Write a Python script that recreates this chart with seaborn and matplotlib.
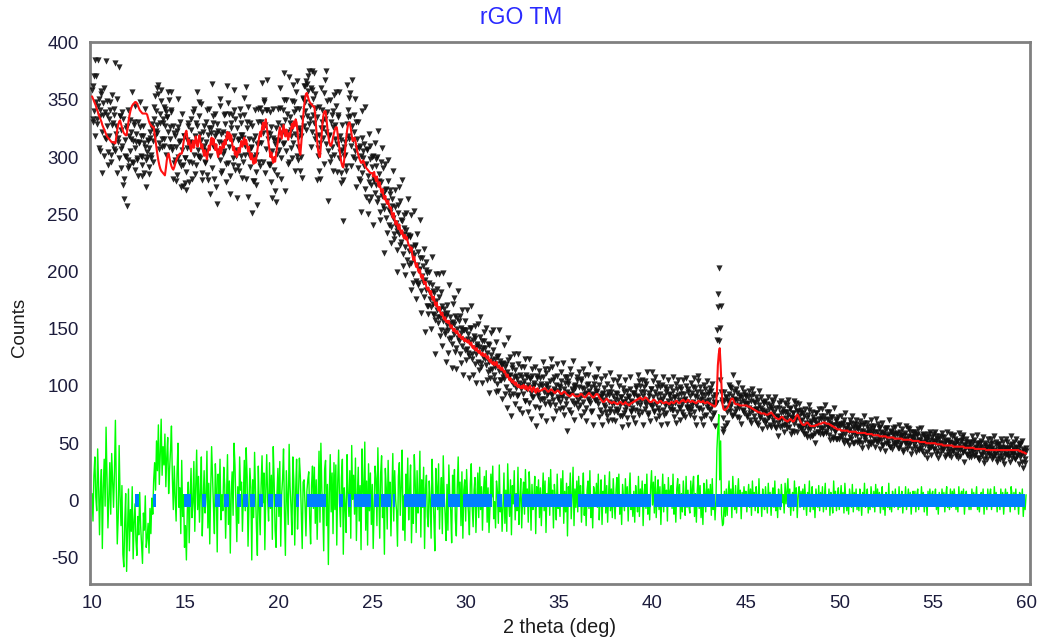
import numpy as np
import pandas as pd
import matplotlib
matplotlib.use("Agg")
import matplotlib.pyplot as plt
from matplotlib.ticker import MultipleLocator
import seaborn as sns

# ---------------- data ----------------
two_theta_start = 10.0
two_theta_step = 0.05

# calculated profile (red), one row per degree, 0.05 deg step
calc = [
    353, 351, 349, 347, 345, 342, 340, 337, 335, 333, 331, 328, 326, 324, 322, 320, 318, 317, 316, 315,
    314, 313, 313, 313, 312, 312, 318, 324, 328, 331, 332, 329, 326, 323, 321, 320, 319, 319, 325, 331,
    336, 340, 343, 345, 346, 347, 348, 348, 347, 345, 343, 341, 340, 339, 338, 338, 338, 338, 338, 337,
    334, 331, 329, 328, 327, 326, 326, 320, 314, 308, 302, 297, 293, 290, 288, 287, 286, 285, 284, 290,
    297, 302, 303, 299, 295, 292, 290, 289, 291, 294, 297, 299, 301, 302, 303, 303, 303, 307, 313, 318,
    321, 323, 317, 311, 315, 309, 305, 310, 314, 308, 312, 318, 313, 309, 315, 319, 313, 308, 311, 305,
    301, 306, 302, 298, 304, 310, 306, 313, 317, 311, 316, 310, 306, 311, 304, 300, 306, 309, 303, 307,
    312, 308, 315, 311, 318, 322, 316, 321, 314, 319, 312, 306, 309, 302, 305, 300, 303, 308, 304, 310,
    314, 309, 313, 317, 311, 315, 310, 305, 309, 302, 298, 303, 297, 294, 299, 295, 300, 306, 312, 318,
    322, 318, 326, 330, 324, 329, 333, 327, 320, 312, 306, 300, 304, 298, 295, 300, 296, 302, 308, 314,
    320, 326, 321, 316, 322, 328, 323, 318, 324, 320, 315, 321, 318, 324, 329, 325, 331, 327, 333, 330,
    322, 313, 305, 302, 312, 324, 335, 344, 351, 355, 356, 353, 350, 348, 347, 346, 345, 344, 344, 336,
    325, 314, 306, 301, 300, 310, 322, 332, 338, 340, 340, 333, 325, 318, 313, 310, 310, 313, 317, 321,
    324, 326, 326, 320, 313, 306, 300, 295, 292, 291, 298, 307, 316, 323, 328, 330, 330, 325, 319, 314,
    315, 317, 314, 309, 305, 302, 299, 297, 295, 295, 297, 296, 293, 291, 290, 289, 288, 287, 286, 286,
    286, 283, 287, 282, 279, 283, 277, 274, 278, 272, 269, 272, 266, 263, 266, 261, 259, 262, 257, 255,
    256, 250, 247, 251, 245, 241, 244, 240, 237, 241, 236, 233, 236, 231, 229, 232, 228, 230, 226, 223,
    222, 218, 221, 214, 210, 213, 207, 204, 207, 201, 199, 202, 196, 194, 197, 191, 189, 191, 186, 184,
    186, 183, 180, 183, 177, 175, 178, 172, 170, 173, 168, 166, 169, 164, 162, 164, 160, 158, 160, 156,
    157, 155, 157, 153, 151, 153, 150, 148, 150, 147, 146, 148, 145, 143, 145, 142, 141, 143, 140, 139,
    141, 139, 138, 140, 137, 136, 138, 134, 133, 135, 132, 131, 133, 130, 129, 131, 128, 127, 129, 126,
    126, 128, 125, 124, 126, 122, 121, 123, 120, 119, 121, 118, 119, 121, 117, 116, 118, 115, 114, 116,
    114, 112, 113, 110, 108, 110, 107, 105, 107, 104, 103, 105, 102, 101, 103, 100, 99, 101, 99, 98,
    100, 98, 101, 99, 97, 100, 98, 96, 99, 100, 97, 95, 98, 99, 96, 94, 97, 98, 95, 96,
    96, 96, 97, 97, 98, 98, 97, 96, 95, 95, 96, 97, 97, 96, 95, 94, 94, 95, 96, 96,
    95, 94, 93, 93, 94, 95, 95, 94, 93, 92, 92, 91, 91, 92, 93, 93, 92, 91, 91, 91,
    91, 91, 92, 93, 93, 92, 91, 90, 90, 91, 92, 93, 94, 93, 92, 91, 90, 90, 91, 92,
    93, 93, 92, 90, 89, 88, 87, 86, 86, 87, 88, 89, 88, 87, 86, 86, 85, 85, 86, 86,
    85, 85, 84, 84, 85, 86, 86, 85, 84, 84, 85, 86, 85, 84, 84, 83, 84, 85, 85, 86,
    86, 87, 87, 88, 88, 89, 89, 90, 89, 88, 88, 89, 90, 90, 89, 88, 87, 86, 86, 86,
    87, 88, 88, 87, 86, 85, 85, 86, 87, 87, 86, 85, 85, 85, 86, 86, 85, 85, 84, 85,
    86, 86, 85, 85, 86, 87, 87, 86, 85, 85, 86, 87, 87, 88, 87, 86, 86, 87, 88, 87,
    86, 86, 87, 87, 86, 86, 85, 85, 86, 87, 87, 86, 86, 86, 87, 86, 85, 85, 86, 86,
    85, 85, 84, 84, 83, 83, 82, 82, 84, 95, 118, 128, 133, 118, 98, 84, 80, 79, 79, 80,
    81, 82, 84, 86, 88, 89, 89, 87, 85, 84, 84, 84, 84, 83, 83, 83, 83, 83, 83, 83,
    83, 83, 82, 82, 82, 81, 81, 80, 80, 79, 79, 78, 78, 77, 77, 77, 76, 76, 76, 76,
    76, 75, 75, 75, 75, 76, 76, 77, 76, 75, 74, 73, 72, 72, 71, 71, 71, 72, 73, 73,
    72, 71, 70, 70, 69, 69, 70, 71, 71, 70, 69, 69, 70, 72, 74, 75, 74, 72, 70, 68,
    67, 66, 66, 66, 67, 68, 68, 67, 66, 65, 65, 65, 65, 65, 65, 66, 66, 66, 67, 67,
    67, 67, 68, 68, 68, 68, 67, 67, 67, 67, 66, 66, 65, 65, 64, 64, 63, 63, 62, 62,
    62, 62, 61, 61, 61, 61, 61, 61, 61, 61, 60, 60, 60, 60, 60, 60, 60, 60, 60, 59,
    59, 59, 59, 59, 59, 59, 59, 59, 59, 58, 58, 58, 58, 58, 58, 58, 57, 57, 57, 57,
    57, 57, 57, 56, 56, 56, 56, 56, 56, 56, 56, 55, 55, 55, 55, 55, 55, 55, 55, 54,
    54, 54, 54, 54, 54, 54, 54, 54, 53, 53, 53, 53, 53, 53, 53, 53, 53, 53, 52, 52,
    52, 52, 52, 52, 52, 52, 51, 51, 51, 51, 51, 51, 51, 50, 50, 50, 50, 50, 50, 50,
    50, 50, 50, 50, 49, 49, 49, 49, 49, 49, 49, 48, 48, 48, 48, 48, 48, 48, 48, 48,
    48, 48, 47, 47, 47, 47, 47, 47, 47, 47, 47, 47, 47, 47, 46, 46, 46, 46, 46, 46,
    46, 46, 46, 46, 46, 45, 45, 45, 45, 45, 45, 45, 45, 45, 45, 45, 45, 44, 44, 44,
    44, 44, 44, 44, 44, 44, 44, 44, 44, 44, 44, 44, 44, 44, 44, 44, 44, 44, 44, 44,
    44, 44, 44, 44, 44, 44, 44, 44, 44, 44, 44, 44, 44, 43, 43, 43, 42, 42, 42, 41,
    41,
]

# observed minus calculated (green), same grid
resid = [
    6, -18, 22, 38, 3, -9, 45, 14, -30, 8, 27, -42, 11, 36, -5, 64, 19, -24, 2, 33,
    -12, 41, 17, -6, 25, 70, 9, -38, -15, 48, 4, -22, 13, -47, -58, -19, 6, -62, -28, 10,
    -44, -8, -27, 12, -51, -19, -3, -35, -48, -14, -30, 7, -22, -39, -55, -11, -26, 4, -41, -33,
    -20, -46, -7, -29, 2, -12, 18, 33, 9, 52, 26, 66, 14, 40, 71, 22, 47, 31, 58, 12,
    38, 55, 6, 27, 44, 65, 19, -8, 30, 3, -18, 24, 50, -6, 11, -29, 35, -14, 5, -41,
    -22, -52, -9, 16, -37, 4, 28, -15, -2, 34, -27, 12, 44, -8, 21, -19, 7, 38, -31, 1,
    26, -11, 3, 43, -24, 15, -38, 8, 47, 19, -6, -29, 32, 10, -45, 23, -2, 36, -17, 5,
    -9, 29, 14, -33, 2, 40, -21, 17, -46, 6, 25, -13, 50, 31, -4, -36, 12, -20, 38, 9,
    16, -27, 4, 35, -9, 46, 21, -40, -3, 28, 11, -52, 18, -15, 42, 7, -24, -48, 30, -6,
    -30, 13, 39, -2, 24, -43, 8, 40, 1, -18, 33, -7, 22, -34, 47, 15, -26, -41, 6, 28,
    -14, 34, -40, 5, 19, 45, -11, -48, 26, 2, -21, 49, 12, -6, -30, 38, 17, -39, 9, 36,
    -25, 4, 37, 21, -12, -42, 16, 18, -3, -31, 8, 18, 25, -15, -38, 13, 30, -7, 29, -20,
    18, -34, 2, 43, -19, 50, 9, -7, -44, 27, 35, -22, 14, -56, 6, 40, -10, 24, -29, 33,
    -8, 31, -39, 15, 44, -2, -23, 20, 36, -47, 11, -5, -28, 40, 7, -14, 26, -33, 48, 1,
    22, -12, 37, -35, 3, 29, -18, 13, -43, 45, 8, -4, 51, -26, 17, -39, 32, -9, 24, -21,
    14, -42, -6, 30, 19, -22, 46, 5, -33, 24, 39, -15, 2, -47, 28, 11, -25, 35, -3, 16,
    -31, 7, 41, -18, 26, 1, -9, -40, 21, 33, -13, 12, 44, -26, 4, -35, 23, -1, 37, -17,
    9, 31, -37, 2, -20, 40, 15, -28, 26, -11, 3, 43, -32, 18, -6, 29, -42, 10, 22, -14,
    -23, 17, 1, -33, 36, 8, -16, -44, 28, 12, -8, 32, -25, 3, 20, -29, 39, 5, -12, -35,
    14, -26, 31, 2, -9, -37, 22, 6, 27, -17, -31, 11, 38, -4, 16, -22, 25, -33, 9, 18,
    -18, 27, 3, -11, -30, 15, 32, -6, -23, 9, 20, -28, 2, 24, -15, 29, -8, 12, -26, 7,
    21, -4, 26, -19, 11, -28, -7, 23, 3, 30, -16, -1, -24, 17, 8, -20, 31, -10, 5, -27,
    -6, 24, -20, 9, -27, 32, 2, -14, 18, -30, 13, -3, 26, -17, 6, -9, 29, -21, 1, 19,
    -24, 4, 16, -12, 27, -2, 10, -19, 25, 7, -26, 14, -8, 2, 21, -29, 12, -4, 18, -15,
    11, -22, 3, 24, -9, 17, -28, 6, -1, 20, -13, 27, -5, 9, -24, 14, 2, -17, 23, -7,
    5, -14, 19, -3, 26, -20, 8, -10, 15, -31, 12, 1, 24, -16, 4, 29, -22, 10, -6, 17,
    -10, 21, -2, 13, -19, 6, 24, -13, 3, -22, 9, 17, -7, 26, -15, 1, -24, 12, 7, -4,
    15, -6, 23, -17, 2, 18, -21, 8, -3, 22, -11, 13, -19, 5, 25, -9, 10, -15, 19, -1,
    -16, 9, 20, -5, 23, -12, 4, -21, 14, 2, -9, 19, -3, 12, -18, 7, 24, -8, 1, -14,
    8, -19, 13, 3, -10, 21, -14, 10, -2, 17, -22, 6, 14, -7, 23, -12, 4, -17, 11, 26,
    -4, 16, -11, 21, -15, 7, 18, -8, 12, -21, 3, 23, -10, 14, -2, 9, -18, 20, -1, 8,
    13, -7, 23, -12, 4, -19, 10, 19, -3, 14, -16, 6, -10, 17, 1, -13, 21, -6, 9, -5,
    -11, 17, -4, 12, 21, -14, 6, -19, 9, 22, -7, 13, -15, 3, -21, 15, 7, -10, 18, -2,
    10, -5, 14, -13, 19, -8, 4, -17, 1, 45, 62, 75, 18, 52, -12, -22, -20, 8, -14, 10,
    -13, 6, 17, -4, 10, -15, 21, 2, -8, 13, -11, 4, 19, -2, 9, -16, 7, -5, 12, 1,
    8, -10, 3, 14, -6, 10, -13, 17, -1, 7, -9, 12, 2, -11, 19, -3, 5, -14, 10, 0,
    -8, 12, 1, -11, 15, -3, 7, -13, 4, 11, -6, 17, -9, 2, -15, 10, 0, -8, 14, -2,
    5, -11, 15, -3, 8, 19, -6, 10, -13, 2, 7, -9, 17, -1, 11, -15, 4, 12, -6, 8,
    -3, 10, -8, 14, 1, -13, 7, -5, 17, -10, 3, 12, -8, 5, -15, 10, 2, -6, 13, -9,
    7, -5, 12, -10, 2, 15, -8, 4, -3, 10, -13, 7, 1, -11, 17, -3, 8, -9, 4, 11,
    -8, 3, 13, -5, 7, -11, 15, 1, -9, 5, -12, 10, 2, -6, 14, -10, 7, -3, 10, -8,
    5, -9, 10, 2, -13, 7, -3, 15, -6, 1, 10, -11, 4, -8, 12, 3, -6, 8, -10, 14,
    -5, 10, -3, 7, -11, 4, 12, -8, 2, -13, 7, 1, -6, 15, -8, 5, -10, 8, 2, -6,
    10, -3, 5, -8, 12, -6, 2, 8, -11, 4, -3, 12, -8, 1, 10, -5, 7, -12, 3, 8,
    -3, 8, -10, 5, 10, -8, 2, -5, 12, -2, 7, -10, 4, 2, -13, 8, -5, 10, -3, 5,
    8, -5, 2, 10, -8, 5, -12, 7, 1, -5, 10, -3, 7, -10, 4, 12, -6, 2, -8, 10,
    -6, 8, -3, 10, 2, -8, 5, -10, 12, -3, 5, 8, -5, 10, -12, 2, 8, -5, 1, -8,
    5, -8, 10, -3, 7, -5, 2, 12, -8, 5, -10, 2, 7, -5, 10, -12, 5, 1, -8, 10,
    -3, 5, 10, -8, 2, -5, 12, -3, 7, -10, 5, 1, -8, 10, -5, 7, -12, 2, 10, -3,
    7, -5, 2, -10, 12, 5, -3, 7, -8, 10, -5, 2, -12, 7, 5, -3, 10, -14, 1, -8,
    5,
]

# additional observed counts between the grid points (10.025, 10.075, ... 59.975)
obs_mid = [
    331, 362, 340, 318, 371, 329, 345, 308, 336, 355, 322, 347, 301, 339, 316, 349, 327, 304, 333, 341,
    296, 328, 311, 342, 305, 320, 351, 317, 299, 336, 324, 290, 310, 333, 281, 315, 300, 327, 290, 318,
    305, 322, 296, 314, 331, 289, 308, 320, 297, 283, 312, 326, 301, 293, 318, 286, 309, 274, 300, 315,
    308, 291, 317, 302, 325, 296, 333, 318, 340, 321, 355, 312, 338, 349, 316, 330, 344, 310, 327, 339,
    335, 322, 350, 316, 341, 306, 327, 295, 318, 309, 284, 326, 300, 313, 331, 292, 306, 275, 318, 299,
    287, 315, 330, 296, 308, 324, 281, 312, 339, 302, 318, 293, 327, 306, 348, 299, 315, 286, 322, 310,
    296, 331, 313, 284, 319, 342, 301, 325, 290, 336, 309, 318, 274, 329, 305, 313, 351, 297, 320, 288,
    322, 305, 338, 294, 317, 347, 309, 283, 330, 314, 299, 341, 318, 289, 306, 325, 292, 316, 336, 301,
    319, 296, 337, 310, 281, 325, 344, 302, 316, 291, 308, 327, 279, 300, 318, 287, 311, 331, 296, 343,
    312, 339, 321, 296, 350, 328, 307, 341, 316, 293, 320, 278, 305, 317, 289, 311, 325, 284, 303, 330,
    315, 343, 299, 327, 311, 350, 332, 305, 338, 319, 296, 335, 324, 308, 349, 312, 339, 320, 357, 301,
    309, 325, 288, 318, 334, 352, 327, 362, 340, 366, 336, 358, 329, 345, 360, 322, 351, 330, 355, 318,
    335, 301, 319, 288, 312, 325, 341, 317, 356, 333, 322, 349, 305, 318, 296, 331, 309, 326, 340, 302,
    328, 345, 311, 337, 299, 318, 286, 306, 280, 301, 313, 292, 329, 341, 318, 352, 336, 310, 327, 300,
    322, 298, 331, 316, 290, 308, 279, 301, 317, 286, 299, 311, 272, 294, 306, 283, 262, 298, 276, 291,
    301, 279, 269, 292, 276, 300, 264, 285, 252, 278, 266, 290, 255, 271, 247, 262, 279, 241, 268, 252,
    239, 263, 247, 228, 256, 240, 219, 251, 233, 262, 226, 244, 215, 238, 249, 221, 236, 210, 232, 218,
    230, 207, 221, 198, 214, 223, 192, 206, 217, 188, 201, 212, 183, 196, 205, 178, 193, 184, 199, 170,
    190, 176, 169, 188, 172, 163, 181, 158, 174, 166, 155, 178, 160, 149, 170, 157, 167, 145, 161, 153,
    164, 149, 141, 160, 152, 137, 156, 145, 161, 133, 150, 142, 157, 128, 146, 151, 135, 149, 140, 131,
    149, 132, 145, 126, 138, 151, 124, 140, 133, 119, 142, 128, 137, 121, 134, 143, 117, 131, 125, 139,
    133, 118, 129, 112, 136, 121, 107, 127, 115, 131, 110, 124, 119, 102, 126, 113, 122, 105, 118, 111,
    120, 106, 117, 99, 112, 123, 96, 110, 104, 118, 93, 108, 114, 98, 106, 119, 92, 103, 110, 97,
    108, 93, 104, 87, 110, 97, 101, 85, 106, 94, 115, 90, 99, 103, 82, 96, 107, 91, 100, 88,
    102, 89, 108, 95, 84, 100, 111, 92, 98, 86, 104, 93, 117, 88, 97, 83, 101, 109, 90, 96,
    99, 86, 104, 92, 81, 97, 108, 89, 95, 102, 79, 93, 110, 87, 96, 100, 84, 98, 91, 105,
    88, 99, 83, 104, 92, 86, 97, 110, 81, 94, 89, 102, 96, 85, 99, 78, 93, 107, 88, 95,
    96, 84, 101, 79, 90, 93, 76, 88, 98, 82, 91, 74, 95, 86, 80, 99, 84, 91, 77, 89,
    80, 93, 77, 88, 100, 83, 90, 74, 86, 95, 79, 89, 72, 91, 84, 97, 78, 87, 81, 94,
    92, 79, 98, 85, 90, 104, 83, 95, 77, 91, 99, 86, 80, 102, 88, 75, 94, 84, 97, 82,
    90, 78, 95, 84, 99, 81, 88, 74, 93, 86, 101, 79, 91, 83, 76, 97, 87, 92, 80, 89,
    83, 96, 79, 90, 85, 102, 77, 92, 88, 81, 97, 84, 75, 93, 89, 100, 82, 86, 95, 78,
    91, 80, 94, 86, 77, 98, 83, 90, 104, 81, 88, 95, 79, 92, 85, 74, 97, 87, 82, 93,
    88, 79, 96, 83, 90, 76, 92, 85, 92, 149, 169, 139, 105, 95, 88, 72, 95, 81, 90, 77,
    86, 93, 78, 99, 84, 91, 75, 96, 88, 80, 94, 83, 72, 90, 86, 98, 79, 87, 76, 92,
    84, 75, 90, 81, 70, 87, 79, 93, 74, 85, 80, 68, 88, 77, 83, 72, 90, 79, 70, 85,
    78, 69, 84, 73, 80, 66, 82, 75, 88, 70, 77, 64, 81, 73, 68, 85, 71, 76, 65, 80,
    66, 77, 72, 83, 63, 75, 69, 80, 73, 61, 76, 67, 82, 71, 78, 65, 74, 69, 79, 62,
    70, 61, 74, 65, 58, 72, 67, 79, 62, 69, 56, 73, 64, 70, 59, 76, 66, 60, 71, 63,
    71, 63, 58, 74, 66, 61, 77, 64, 70, 57, 68, 62, 73, 55, 66, 60, 69, 54, 64, 67,
    56, 67, 60, 53, 65, 70, 58, 63, 52, 66, 61, 55, 68, 59, 64, 50, 62, 67, 57, 63,
    62, 53, 66, 57, 50, 61, 68, 55, 59, 64, 51, 60, 56, 65, 49, 58, 63, 54, 60, 52,
    60, 51, 57, 64, 53, 48, 59, 55, 62, 50, 56, 63, 52, 58, 47, 61, 54, 59, 50, 57,
    49, 58, 53, 46, 60, 55, 50, 57, 44, 54, 59, 51, 48, 56, 62, 50, 55, 45, 53, 58,
    55, 47, 52, 58, 45, 53, 49, 56, 43, 51, 57, 48, 54, 42, 50, 55, 47, 53, 40, 49,
    52, 45, 50, 56, 43, 48, 54, 41, 50, 46, 55, 44, 49, 52, 40, 47, 53, 45, 51, 38,
    50, 43, 48, 54, 41, 46, 52, 44, 49, 39, 47, 53, 42, 48, 45, 51, 40, 46, 50, 43,
    41, 48, 44, 51, 39, 46, 42, 49, 37, 45, 50, 41, 47, 43, 36, 48, 44, 40, 47, 42,
    47, 40, 45, 50, 38, 44, 41, 48, 36, 43, 49, 39, 46, 42, 47, 35, 44, 40, 46, 41,
    45, 39, 48, 42, 37, 46, 41, 44, 36, 47, 40, 43, 49, 38, 42, 34, 45, 40, 36, 43,
]

# reflection position bands (blue), start / end in 2-theta
band_start = [12.28, 13.27, 14.90, 15.10, 15.89, 16.60, 17.07, 17.76, 18.06, 18.46, 18.92, 19.42,
              19.81, 20.92, 21.51, 23.20, 23.70, 24.02, 25.10, 25.48, 26.13, 26.68, 28.15, 29.06,
              29.86, 31.68, 32.03, 32.57, 33.02, 36.02, 40.06, 43.42, 47.20, 47.86]
band_end = [12.49, 13.44, 15.08, 15.30, 16.10, 16.83, 17.35, 17.99, 18.35, 18.70, 19.13, 19.67,
            20.17, 21.10, 22.54, 23.41, 23.88, 24.95, 25.34, 25.98, 26.24, 27.90, 28.88, 29.68,
            31.39, 31.93, 32.43, 32.86, 35.67, 39.92, 43.35, 46.94, 47.76, 59.96]

x_ticks = [10, 15, 20, 25, 30, 35, 40, 45, 50, 55, 60]
y_ticks = [-50, 0, 50, 100, 150, 200, 250, 300, 350, 400]

# ---------------- build frames ----------------
n = len(calc)
two_theta = two_theta_start + two_theta_step * np.arange(n)
df = pd.DataFrame({"tt": two_theta, "calc": calc, "diff": resid})
df["obs"] = df["calc"] + df["diff"]

two_theta_mid = two_theta_start + two_theta_step * (np.arange(len(obs_mid)) + 0.5)
obs_all = pd.concat([
    df[["tt", "obs"]],
    pd.DataFrame({"tt": two_theta_mid, "obs": obs_mid}),
], ignore_index=True)

# ---------------- plot ----------------
sns.set_style("white")
plt.rcParams["font.family"] = ["Liberation Sans", "DejaVu Sans"]
plt.rcParams["axes.unicode_minus"] = False

fig = plt.figure(figsize=(10.43, 6.43), dpi=100)
ax = fig.add_axes([90 / 1043, 1 - 584 / 643, 940 / 1043, 542 / 643])

sns.lineplot(data=df, x="tt", y="diff", ax=ax, color="#00ff00", linewidth=1.0,
             estimator=None, sort=False, zorder=1)
ax.broken_barh([(s, e - s) for s, e in zip(band_start, band_end)], (-6, 12),
               facecolors="#0080ff", edgecolors="none", zorder=2)
sns.scatterplot(data=obs_all, x="tt", y="obs", ax=ax, color="#111111", marker="v", s=20,
                linewidth=0, alpha=0.9, zorder=3)
sns.lineplot(data=df, x="tt", y="calc", ax=ax, color="#ff1010", linewidth=1.5,
             estimator=None, sort=False, zorder=4)

ax.set_xlim(9.89, 60.21)
ax.set_ylim(-73, 400.5)
ax.set_xticks(x_ticks)
ax.set_yticks(y_ticks)
ax.xaxis.set_minor_locator(MultipleLocator(1))
ax.yaxis.set_minor_locator(MultipleLocator(10))

for sp in ax.spines.values():
    sp.set_color("#808080")
    sp.set_linewidth(2.0)

ax.tick_params(axis="both", which="major", direction="out", length=5, width=1.4,
               color="#808080", labelcolor="#1c1c3c", labelsize=13.5, pad=3)
ax.tick_params(axis="both", which="minor", direction="out", length=3, width=1.0,
               color="#a0a0a0")

ax.set_xlabel("2 theta (deg)", fontsize=14.3, color="#1c1c1c")
ax.set_ylabel("Counts", fontsize=13.5, color="#1c1c1c")
ax.xaxis.set_label_coords(0.5, -0.062)
ax.yaxis.set_label_coords(-0.066, 0.474)

fig.text(0.5, 1 - 18 / 643, "rGO TM", ha="center", va="center", color="#2a2aff",
         fontsize=16.5)

fig.savefig("out.png", dpi=100, facecolor="white")
